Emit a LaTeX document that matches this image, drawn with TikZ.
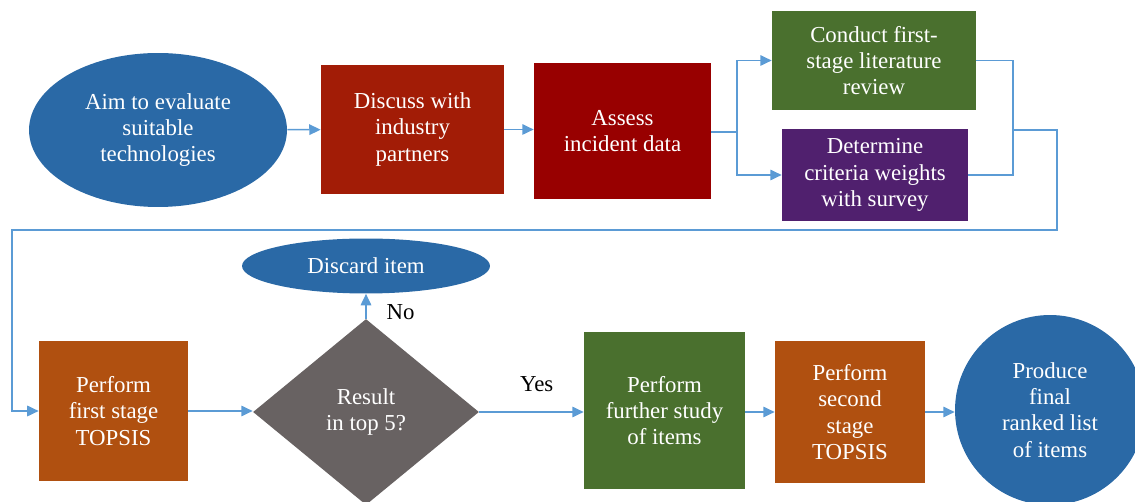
\documentclass[tikz,border=0pt]{standalone}
\usepackage{fontspec}
\setmainfont{Liberation Serif}
\usetikzlibrary{shapes.geometric,arrows.meta}
\definecolor{aimblue}{RGB}{42,105,166}
\definecolor{talkred}{RGB}{162,28,6}
\definecolor{datared}{RGB}{152,0,0}
\definecolor{stepgreen}{RGB}{74,112,46}
\definecolor{surveypurple}{RGB}{80,32,110}
\definecolor{topsisorange}{RGB}{176,80,16}
\definecolor{testgrey}{RGB}{104,98,98}
\definecolor{lineblue}{RGB}{91,155,213}

\begin{document}
\begin{tikzpicture}[x=0.02cm, y=-0.02cm, font=\fontsize{13}{15}\selectfont,
		blk/.style={rectangle, text=white, align=center, inner sep=0pt},
		link/.style={draw=lineblue, line width=0.85pt, -{Triangle[length=6.5pt, width=6pt]}},
		wire/.style={draw=lineblue, line width=0.85pt}]
				\path[use as bounding box, clip] (0,0) rectangle (1135,502);

				\node[ellipse, fill=aimblue, text=white, align=center, inner sep=0pt, minimum width=5.16cm, minimum height=3.08cm] (aim) at (158,130) {Aim to evaluate\\suitable\\technologies};
				\node[blk, fill=talkred, minimum width=3.66cm, minimum height=2.58cm] (talk) at (412.5,129.5) {Discuss with\\industry\\partners};
				\node[blk, fill=datared, minimum width=3.54cm, minimum height=2.72cm] (data) at (622.5,131) {Assess\\incident data};
				\node[blk, fill=stepgreen, minimum width=4.08cm, minimum height=1.98cm] (lit) at (874,60.5) {Conduct first-\\stage literature\\review};
				\node[blk, fill=surveypurple, minimum width=3.72cm, minimum height=1.84cm] (crit) at (875,175) {Determine\\criteria weights\\with survey};

				\node[blk, fill=topsisorange, minimum width=2.98cm, minimum height=2.8cm] (tA) at (113.5,411) {Perform\\first stage\\TOPSIS};
				\node[diamond, fill=testgrey, text=white, align=center, inner sep=0pt, minimum width=4.52cm, minimum height=3.72cm] (res) at (366,412) {Result\\in top 5?};
				\node[ellipse, fill=aimblue, text=white, inner sep=0pt, minimum width=4.96cm, minimum height=1.1cm] (drop) at (366,266) {Discard item};
				\node[blk, fill=stepgreen, minimum width=3.22cm, minimum height=3.14cm] (study) at (664.5,410.5) {Perform\\further study\\of items};
				\node[blk, fill=topsisorange, minimum width=3.0cm, minimum height=2.84cm] (tB) at (850,412) {Perform\\second\\stage\\TOPSIS};
				\node[circle, fill=aimblue, text=white, align=center, inner sep=0pt, minimum size=3.8cm] (final) at (1050,410) {Produce\\final\\ranked list\\of items};

				\coordinate (split) at (737,132);
				\coordinate (join) at (1013,130);
				\coordinate (downR) at (1057,230);
				\coordinate (downL) at (12,230);

				\draw[link] (aim) -- (talk);
				\draw[link] (talk.east) -- (talk.east -| data.west);
				\draw[wire] (data.east |- split) -- (split);
				\draw[link] (split) |- (lit.west);
				\draw[link] (split) |- (crit.west);
				\draw[wire] (lit.east) -| (join) (crit.east) -| (join);
				\draw[link] (join) -| (downR) -- (downL) |- (tA.west);
				\draw[link] (tA.east) -- (tA.east -| res.west);
				\draw[link] (res.north) -- node[right=8pt, pos=0.25] {No} (drop.south);
				\draw[link] (res.east) -- node[above=8pt, pos=0.55] {Yes} (res.east -| study.west);
				\draw[link] (study.east |- tB.west) -- (tB.west);
				\draw[link] (tB.east) -- (tB.east -| final.west);
			\end{tikzpicture}
\end{document}
